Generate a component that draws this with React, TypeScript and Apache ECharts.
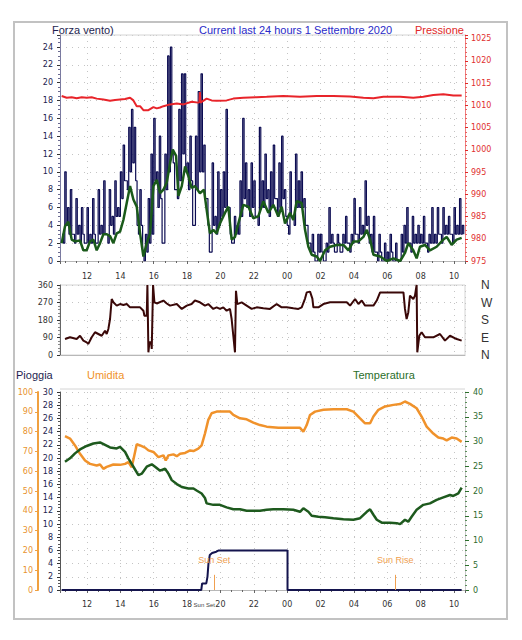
import React, { useEffect, useRef } from "react";
import * as echarts from "echarts";

// ---------- data ----------
const X_MIN = 10.38;
const X_MAX = 34.66;

// wind gust, 10-minute samples starting 10:30: peak of each slot and the low inside it
const GUST_START = 10.5;
const GUST_STEP = 1 / 6;
const windGust: number[] = [
  3, 10, 6,
  8, 3, 7, 4, 6, 2,
  6, 3, 7, 2, 8, 4,
  9, 3, 8, 5, 9, 6,
  10, 13, 9, 15, 17, 15,
  4, 8, 1, 3, 7, 12,
  16, 10, 14, 2, 12, 23,
  24, 11, 8, 17, 21, 21,
  11, 14, 4, 14, 19, 21,
  13, 7, 1, 11, 5, 10,
  8, 10, 17, 6, 2, 5,
  4, 9, 16, 11, 8, 11,
  9, 5, 15, 9, 12, 8,
  10, 13, 7, 11, 14, 8,
  4, 10, 5, 12, 9, 10,
  7, 4, 2, 3, 0, 3,
  3, 0, 2, 6, 3, 1,
  3, 1, 3, 5, 2, 3,
  7, 3, 6, 4, 9, 5,
  3, 5, 1, 3, 0, 2,
  1, 3, 0, 2, 0, 3,
  4, 6, 2, 5, 3, 4,
  3, 5, 2, 3, 6, 3,
  6, 3, 6, 4, 5, 3,
  6, 4, 7, 4,
];
const windGustLow: number[] = [
  2, 4, 3,
  3, 2, 3, 2, 3, 2,
  2, 2, 3, 2, 3, 3,
  3, 2, 4, 3, 5, 5,
  7, 9, 8, 10, 11, 9,
  3, 4, 0, 1, 2, 3,
  9, 6, 7, 2, 8, 10,
  12, 8, 7, 9, 12, 10,
  8, 9, 4, 8, 10, 10,
  7, 4, 1, 4, 3, 4,
  5, 6, 6, 3, 2, 3,
  3, 5, 7, 6, 5, 6,
  5, 4, 6, 6, 7, 5,
  6, 7, 5, 6, 7, 5,
  3, 5, 4, 6, 6, 6,
  4, 2, 1, 1, 0, 1,
  1, 0, 1, 2, 2, 1,
  2, 1, 2, 2, 1, 2,
  3, 2, 3, 3, 4, 2,
  1, 1, 0, 1, 0, 0,
  0, 1, 0, 0, 0, 1,
  2, 2, 1, 2, 2, 2,
  2, 2, 1, 2, 2, 2,
  3, 2, 3, 3, 3, 2,
  3, 3, 3, 3,
];

const windAvg: [number, number][] = [
  [10.48, 2.0], [10.68, 3.9], [10.88, 4.4], [11.08, 2.4], [11.28, 2.2], [11.58, 2.3], [11.78, 1.2],
  [11.98, 1.2], [12.18, 2.2], [12.38, 2.4], [12.58, 1.2], [12.78, 2.0], [12.98, 3.0], [13.18, 3.0],
  [13.38, 2.8], [13.58, 2.0], [13.78, 3.1], [13.98, 3.3], [14.18, 4.6], [14.38, 6.5], [14.58, 8.4],
  [14.78, 6.9], [14.98, 6.1], [15.18, 3.1], [15.38, 0.5], [15.58, 2.0], [15.78, 3.1], [15.98, 8.4],
  [16.18, 9.1], [16.38, 7.6], [16.58, 8.0], [16.78, 8.8], [16.98, 11.0], [17.14, 12.5], [17.34, 11.8],
  [17.48, 7.3], [17.68, 8.4], [17.88, 10.6], [18.08, 9.5], [18.27, 8.2], [18.47, 8.4], [18.77, 7.6],
  [19.01, 8.0], [19.17, 5.8], [19.37, 3.1], [19.57, 3.5], [19.77, 3.1], [19.97, 4.2], [20.27, 5.4],
  [20.47, 6.1], [20.67, 2.4], [20.87, 2.7], [21.07, 4.2], [21.37, 6.3], [21.67, 6.1], [21.97, 4.8],
  [22.27, 5.0], [22.57, 6.7], [22.87, 5.4], [23.17, 6.3], [23.47, 5.0], [23.67, 6.1], [23.87, 4.2],
  [24.17, 5.4], [24.37, 4.6], [24.57, 6.7], [24.87, 6.5], [25.07, 3.5], [25.27, 1.6], [25.47, 0.7],
  [25.77, 0.5], [25.97, 0], [26.27, 1.2], [26.57, 1.6], [26.97, 1.8], [27.37, 1.8], [27.67, 1.2],
  [27.97, 2.2], [28.27, 2.2], [28.57, 2.7], [28.77, 3.5], [28.97, 2.4], [29.17, 0.7], [29.57, 0.5],
  [29.97, 0], [30.37, 0.3], [30.77, 0], [31.06, 0.9], [31.26, 2.0], [31.56, 1.2], [31.76, 0.3],
  [31.96, 1.6], [32.26, 1.8], [32.56, 1.2], [32.96, 1.6], [33.36, 2.4], [33.56, 2.7], [33.86, 1.8],
  [34.16, 2.4], [34.46, 2.6],
];

const pressure: [number, number][] = [
  [10.48, 1012.1], [10.78, 1011.7], [11.08, 1011.8], [11.38, 1011.6], [11.68, 1011.8], [11.98, 1011.7],
  [12.28, 1011.8], [12.58, 1011.5], [12.98, 1011.3], [13.38, 1011.0], [13.68, 1011.2], [13.98, 1011.3],
  [14.28, 1011.4], [14.58, 1011.7], [14.78, 1011.1], [14.98, 1009.8], [15.18, 1009.8], [15.38, 1008.9],
  [15.68, 1008.9], [15.98, 1009.6], [16.18, 1009.3], [16.38, 1009.5], [16.58, 1009.8], [16.98, 1010.2],
  [17.38, 1010.4], [17.78, 1010.2], [18.27, 1010.8], [18.67, 1010.6], [18.74, 1010.7], [18.77, 1013.0],
  [18.8, 1010.6], [19.17, 1011.5], [19.47, 1011.1], [19.77, 1011.0], [20.37, 1011.1], [20.77, 1011.5],
  [21.37, 1011.7], [22.17, 1011.8], [22.77, 1011.9], [23.77, 1012.1], [24.77, 1011.9], [25.77, 1012.1],
  [26.77, 1012.1], [27.77, 1012.0], [28.57, 1011.7], [29.17, 1011.6], [29.77, 1011.9], [30.77, 1011.9],
  [31.56, 1011.7], [32.16, 1011.9], [32.76, 1012.3], [33.36, 1012.5], [33.96, 1012.2], [34.46, 1012.2],
];

const windDir: [number, number][] = [
  [10.68, 82], [10.98, 91], [11.38, 82], [11.58, 99], [11.78, 74], [11.98, 65], [12.08, 57], [12.28, 91],
  [12.48, 117], [12.68, 108], [12.88, 99], [13.08, 125], [13.18, 108], [13.28, 134], [13.38, 185],
  [13.48, 288], [13.58, 271], [13.78, 254], [13.98, 262], [14.18, 257], [14.38, 262], [14.58, 245],
  [14.98, 245], [15.18, 245], [15.38, 228], [15.44, 202], [15.58, 202], [15.62, 360], [15.68, 14],
  [15.74, 65], [15.84, 65], [15.88, 31], [15.96, 360], [16.04, 271], [16.18, 265], [16.58, 280],
  [16.78, 265], [16.98, 254], [17.38, 262], [17.68, 237], [17.98, 254], [18.27, 262], [18.47, 280],
  [18.77, 271], [19.07, 254], [19.27, 262], [19.57, 237], [19.77, 245], [19.97, 237], [20.17, 245],
  [20.37, 228], [20.57, 237], [20.67, 185], [20.77, 99], [20.87, 14], [20.93, 330], [21.01, 262],
  [21.27, 271], [21.57, 254], [21.87, 237], [22.17, 245], [22.57, 240], [22.97, 237], [23.37, 262],
  [23.67, 245], [23.97, 245], [24.37, 240], [24.67, 237], [24.87, 245], [25.07, 290], [25.17, 322],
  [25.37, 326], [25.51, 290], [25.57, 245], [25.87, 245], [26.17, 262], [26.57, 271], [27.57, 271],
  [27.77, 254], [28.07, 288], [28.27, 262], [28.47, 280], [28.67, 254], [29.17, 254], [29.37, 280],
  [29.57, 322], [30.97, 322], [31.06, 237], [31.16, 185], [31.26, 219], [31.36, 305], [31.56, 288],
  [31.66, 305], [31.76, 360], [31.8, 14], [31.92, 99], [32.06, 117], [32.26, 91], [32.76, 91],
  [33.16, 108], [33.46, 74], [33.76, 99], [34.16, 82], [34.46, 74],
];
const COMPASS: Record<number, string> = { 0: "N", 90: "E", 180: "S", 270: "W", 360: "N" };

const humidity: [number, number][] = [
  [10.68, 77.7], [10.98, 76.5], [11.28, 73], [11.58, 68.8], [11.88, 65.4], [12.18, 63.7], [12.58, 62.9],
  [12.78, 63.4], [12.98, 61.2], [13.18, 62.2], [13.58, 63.4], [13.98, 63.2], [14.28, 63.7], [14.48, 64.6],
  [14.68, 62], [14.88, 69.7], [14.98, 73.6], [15.18, 73], [15.48, 71.9], [15.68, 70.5], [15.98, 69.7],
  [16.28, 67.1], [16.58, 68], [16.72, 65.4], [16.88, 68], [17.18, 68.5], [17.38, 67.6], [17.58, 68.8],
  [17.88, 69.2], [18.18, 70.5], [18.38, 70.2], [18.67, 71.4], [18.87, 73], [19.07, 79], [19.27, 85.9],
  [19.47, 89.3], [19.77, 90.1], [20.57, 90.1], [20.77, 88.4], [21.17, 86.7], [21.57, 86.2], [21.97, 84.5],
  [22.37, 83.3], [22.77, 82.5], [23.47, 81.9], [24.77, 81.9], [24.97, 79.9], [25.17, 83.3], [25.37, 88.4],
  [25.67, 90.1], [26.17, 91], [26.77, 91.3], [27.57, 91.3], [27.97, 90.1], [28.37, 86.7], [28.67, 84.2],
  [28.97, 84.2], [29.17, 87.6], [29.47, 91], [29.87, 92.7], [30.37, 93.5], [30.77, 93.9], [31.06, 95.2],
  [31.36, 94], [31.76, 91.8], [32.06, 87.6], [32.36, 82.5], [32.76, 79], [33.06, 77], [33.36, 76.5],
  [33.56, 75.6], [33.86, 77], [34.16, 76.5], [34.46, 74.8],
];

const temperature: [number, number][] = [
  [10.68, 25.9], [10.98, 26.6], [11.28, 27.6], [11.58, 28.4], [11.98, 29.1], [12.38, 29.6], [12.78, 29.8],
  [13.08, 29.3], [13.38, 28.8], [13.78, 28.6], [13.98, 28.9], [14.28, 27.9], [14.48, 26.6], [14.78, 24.9],
  [15.08, 23.2], [15.28, 23.5], [15.58, 24.9], [15.88, 25.4], [16.08, 24.9], [16.38, 24.1], [16.68, 24.5],
  [16.88, 23.5], [17.08, 22.2], [17.38, 21.4], [17.68, 20.8], [18.08, 20.5], [18.38, 20.5], [18.57, 20.1],
  [18.87, 19.5], [19.07, 18.6], [19.17, 17.5], [19.57, 17.2], [19.97, 17.2], [20.37, 16.7], [20.77, 16.3],
  [21.17, 16.3], [21.57, 16.0], [21.97, 16.0], [22.37, 16.0], [22.77, 16.2], [23.17, 16.3], [23.77, 16.3],
  [24.37, 16.2], [24.77, 15.8], [24.97, 16.5], [25.27, 15.8], [25.47, 15.0], [25.87, 14.8], [26.27, 14.7],
  [26.77, 14.5], [27.37, 14.3], [27.97, 14.2], [28.37, 14.5], [28.77, 15.8], [28.97, 16.3], [29.17, 15.2],
  [29.37, 14.2], [29.67, 13.6], [30.17, 13.6], [30.57, 13.5], [30.77, 13.3], [31.06, 14.2], [31.26, 13.8],
  [31.46, 14.8], [31.76, 16.2], [32.16, 17.2], [32.56, 17.5], [32.96, 18.2], [33.36, 18.7], [33.76, 19.2],
  [33.96, 19.0], [34.26, 19.5], [34.46, 20.7],
];

const rain: [number, number][] = [
  [10.48, 0], [18.85, 0], [18.9, 1], [19.15, 1], [19.22, 2], [19.28, 4], [19.36, 5.3], [19.5, 5.6],
  [19.75, 5.8], [19.9, 6], [24.02, 6], [24.02, 0], [34.46, 0],
];

const SUN_SET = 19.63;
const SUN_RISE = 30.48;
const SUN_MARK_HEIGHT = 2.3;

// ---------- styles ----------
const FONT = "DejaVu Sans";
const TITLE_FONT = "Liberation Sans";
const GRID_DOT = { color: "#c4c4c4", width: 1, type: [1, 5] as number[] };
const X_LABEL = "#333333";

const hourLabel = (v: number) => {
  if (Math.abs(v - Math.round(v)) > 1e-6) return "";
  const h = Math.round(v) % 24;
  return String(h).padStart(2, "0");
};
const intLabel = (step: number, maxShown: number) => (v: number) =>
  Math.abs(v / step - Math.round(v / step)) < 1e-6 && v <= maxShown + 1e-6 ? String(Math.round(v)) : "";

function xAxisFor(gridIndex: number, showLabels: boolean, offset: number) {
  return {
    type: "value",
    gridIndex,
    min: X_MIN,
    max: X_MAX,
    minInterval: 2,
    maxInterval: 2,
    position: "bottom",
    offset,
    axisLine: { show: true, lineStyle: { color: "#b8b8b8", width: 1 } },
    axisTick: { show: showLabels, length: 3, lineStyle: { color: "#666" } },
    minorTick: { show: showLabels, splitNumber: 3, length: 2, lineStyle: { color: "#666" } },
    axisLabel: {
      show: showLabels,
      formatter: hourLabel,
      color: X_LABEL,
      fontSize: 8,
      fontFamily: FONT,
      margin: 7,
      showMinLabel: false,
      showMaxLabel: false,
    },
    splitLine: { show: true, lineStyle: GRID_DOT },
  };
}

function gustPoints(): [number, number][] {
  const pts: [number, number][] = [];
  windGust.forEach((v, i) => {
    const t = GUST_START + i * GUST_STEP;
    pts.push([t, v]);
    pts.push([t + GUST_STEP / 2, windGustLow[i]]);
  });
  return pts;
}

function buildOption(sunSetPx: number | null) {
  const graphics: any[] = [
    { type: "rect", shape: { x: 14, y: 22, width: 493, height: 597 }, style: { fill: "none", stroke: "#c2c2c2", lineWidth: 2 }, silent: true },
    { type: "line", shape: { x1: 60, y1: 35, x2: 465, y2: 35 }, style: { stroke: "#d4d4d4", lineWidth: 1 }, silent: true },
    { type: "line", shape: { x1: 60, y1: 389, x2: 465, y2: 389 }, style: { stroke: "#d4d4d4", lineWidth: 1 }, silent: true },
    { type: "text", x: 52, y: 30, style: { text: "Forza vento)", fill: "#1e1e50", font: `11px '${TITLE_FONT}'`, textVerticalAlign: "middle" } },
    { type: "text", x: 199, y: 30, style: { text: "Current last 24 hours 1 Settembre 2020", fill: "#2a2ac8", font: `11px '${TITLE_FONT}'`, textVerticalAlign: "middle" } },
    { type: "text", x: 415, y: 30, style: { text: "Pressione", fill: "#e02828", font: `11px '${TITLE_FONT}'`, textVerticalAlign: "middle" } },
    { type: "text", x: 16, y: 375, style: { text: "Pioggia", fill: "#1e1e50", font: `11px '${TITLE_FONT}'`, textVerticalAlign: "middle" } },
    { type: "text", x: 87, y: 375, style: { text: "Umidita", fill: "#f0922b", font: `11px '${TITLE_FONT}'`, textVerticalAlign: "middle" } },
    { type: "text", x: 353, y: 375, style: { text: "Temperatura", fill: "#2a6e2a", font: `11px '${TITLE_FONT}'`, textVerticalAlign: "middle" } },
  ];
  if (sunSetPx != null) {
    graphics.push({
      type: "text",
      x: sunSetPx - 10,
      y: 605,
      style: { text: "Sun Set", fill: "#444", font: `6px '${TITLE_FONT}'`, textAlign: "center", textVerticalAlign: "middle" },
    });
  }

  return {
    animation: false,
    backgroundColor: "#ffffff",
    textStyle: { fontFamily: FONT },
    graphic: graphics,
    grid: [
      { left: 60, right: 57, top: 35, height: 226 },
      { left: 60, right: 57, top: 285, height: 70, show: true, borderColor: "#d4d4d4", borderWidth: 1 },
      { left: 60, right: 57, top: 392, height: 198 },
    ],
    xAxis: [xAxisFor(0, true, 4), xAxisFor(1, false, 0), xAxisFor(2, true, 3)],
    yAxis: [
      {
        type: "value", gridIndex: 0, position: "left", min: 0, max: 25.35, minInterval: 2, maxInterval: 2,
        axisLine: { show: true, lineStyle: { color: "#7a7aa0" } },
        axisTick: { show: true, length: 3, lineStyle: { color: "#333" } },
        minorTick: { show: true, splitNumber: 4, length: 2, lineStyle: { color: "#6a6a90" } },
        axisLabel: { formatter: intLabel(2, 24), color: "#22224e", fontSize: 8, fontFamily: FONT, margin: 7 },
        splitLine: { show: true, lineStyle: GRID_DOT },
      },
      {
        type: "value", gridIndex: 0, position: "right", min: 975, max: 1025.8, minInterval: 5, maxInterval: 5,
        axisLine: { show: true, lineStyle: { color: "#f08080" } },
        axisTick: { show: true, length: 3, lineStyle: { color: "#e02828" } },
        minorTick: { show: true, splitNumber: 5, length: 2, lineStyle: { color: "#e86060" } },
        axisLabel: { formatter: intLabel(5, 1025), color: "#e03030", fontSize: 8, fontFamily: FONT, margin: 6 },
        splitLine: { show: false },
      },
      {
        type: "value", gridIndex: 1, position: "left", min: 0, max: 360, interval: 90,
        axisLine: { show: true, lineStyle: { color: "#666" } },
        axisTick: { show: true, length: 3, lineStyle: { color: "#333" } },
        minorTick: { show: true, splitNumber: 5, length: 2, lineStyle: { color: "#888" } },
        axisLabel: { color: "#333", fontSize: 8, fontFamily: FONT, margin: 7 },
        splitLine: { show: true, lineStyle: GRID_DOT },
      },
      {
        type: "value", gridIndex: 1, position: "right", min: 0, max: 360, interval: 90,
        axisLine: { show: false }, axisTick: { show: false }, splitLine: { show: false },
        axisLabel: { formatter: (v: number) => COMPASS[v] ?? "", color: "#333", fontSize: 12, fontFamily: TITLE_FONT, margin: 16 },
      },
      {
        type: "value", gridIndex: 2, position: "left", offset: 22, min: 0, max: 100, interval: 10,
        axisLine: { show: true, lineStyle: { color: "#f0a040", width: 2 } },
        axisTick: { show: true, length: 3, lineStyle: { color: "#f0a040" } },
        axisLabel: { color: "#e8922e", fontSize: 8, fontFamily: FONT, margin: 5 },
        splitLine: { show: false },
      },
      {
        type: "value", gridIndex: 2, position: "left", min: 0, max: 30, interval: 2,
        axisLine: { show: true, lineStyle: { color: "#555" } },
        axisTick: { show: true, length: 3, lineStyle: { color: "#333" } },
        minorTick: { show: true, splitNumber: 4, length: 2, lineStyle: { color: "#555" } },
        axisLabel: { color: "#22224e", fontSize: 8, fontFamily: FONT, margin: 7 },
        splitLine: { show: true, lineStyle: GRID_DOT },
      },
      {
        type: "value", gridIndex: 2, position: "right", min: 0, max: 40, interval: 5,
        axisLine: { show: true, lineStyle: { color: "#c8c8c8" } },
        axisTick: { show: true, length: 4, lineStyle: { color: "#2a6e2a" } },
        minorTick: { show: true, splitNumber: 5, length: 2, lineStyle: { color: "#5a8e5a" } },
        axisLabel: { color: "#2e6b2e", fontSize: 8, fontFamily: FONT, margin: 8 },
        splitLine: { show: false },
      },
    ],
    series: [
      {
        name: "Raffica", type: "line", xAxisIndex: 0, yAxisIndex: 0, step: "end", symbol: "none",
        data: gustPoints(),
        lineStyle: { color: "#0c0c52", width: 1.2 }, itemStyle: { color: "#0c0c52" },
      },
      {
        name: "Media", type: "line", xAxisIndex: 0, yAxisIndex: 0, symbol: "none", data: windAvg,
        lineStyle: { color: "#1a5a1a", width: 2.5 }, itemStyle: { color: "#1a5a1a" },
      },
      {
        name: "Pressione", type: "line", xAxisIndex: 0, yAxisIndex: 1, symbol: "none", data: pressure,
        lineStyle: { color: "#e8242a", width: 2 }, itemStyle: { color: "#e8242a" },
      },
      {
        name: "Direzione", type: "line", xAxisIndex: 1, yAxisIndex: 2, symbol: "none", data: windDir,
        lineStyle: { color: "#3a0808", width: 2 }, itemStyle: { color: "#3a0808" },
      },
      {
        name: "Umidita", type: "line", xAxisIndex: 2, yAxisIndex: 4, symbol: "none", data: humidity,
        lineStyle: { color: "#f0922b", width: 2.5 }, itemStyle: { color: "#f0922b" },
      },
      {
        name: "Temperatura", type: "line", xAxisIndex: 2, yAxisIndex: 6, symbol: "none", data: temperature,
        lineStyle: { color: "#1e5a1e", width: 2.5 }, itemStyle: { color: "#1e5a1e" },
      },
      {
        name: "Pioggia", type: "line", xAxisIndex: 2, yAxisIndex: 5, symbol: "none", data: rain,
        lineStyle: { color: "#14144e", width: 2 }, itemStyle: { color: "#14144e" },
        markLine: {
          silent: true,
          symbol: ["none", "none"],
          lineStyle: { color: "#f0a050", width: 1, type: "solid" },
          label: { show: true, position: "end", formatter: "{b}", color: "#f0a050", fontSize: 9, fontFamily: TITLE_FONT, distance: 10 },
          data: [
            [{ name: "Sun Set", coord: [SUN_SET, 0] }, { coord: [SUN_SET, SUN_MARK_HEIGHT] }],
            [{ name: "Sun Rise", coord: [SUN_RISE, 0] }, { coord: [SUN_RISE, SUN_MARK_HEIGHT] }],
          ],
        },
      },
    ],
  };
}

export default function App() {
  const ref = useRef<HTMLDivElement>(null);
  useEffect(() => {
    if (!ref.current) return;
    const chart = echarts.init(ref.current, null, { renderer: "svg" });
    chart.setOption(buildOption(null) as any);
    const px = chart.convertToPixel({ xAxisIndex: 2 } as any, SUN_SET) as unknown as number;
    chart.setOption(buildOption(typeof px === "number" ? px : null) as any, { replaceMerge: ["graphic"] } as any);
    return () => chart.dispose();
  }, []);
  return (
    <div
      ref={ref}
      style={{ position: "absolute", left: 0, top: 0, width: 522, height: 640, background: "#ffffff" }}
    />
  );
}
